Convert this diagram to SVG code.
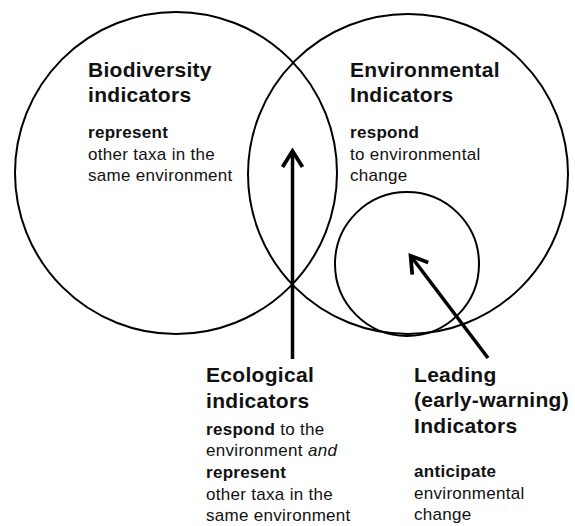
<svg xmlns="http://www.w3.org/2000/svg" width="575" height="526" viewBox="0 0 575 526">
<defs>
<style>
.c{fill:none;stroke:#000;stroke-width:2}
.a{fill:none;stroke:#000;stroke-width:3.5}
text{font-family:"Liberation Sans",Arial,sans-serif;fill:#111;letter-spacing:0.3px}
.t{font-size:21px;font-weight:bold}
.b{font-size:17px}
.bb{font-weight:bold}
</style>
<marker id="ah" markerUnits="userSpaceOnUse" viewBox="-22 -14 28 28" refX="0" refY="0" markerWidth="28" markerHeight="28" orient="auto">
<path d="M-16,-10 L0,0 L-16,10" fill="none" stroke="#000" stroke-width="3.8"/>
</marker>
</defs>
<rect width="575" height="526" fill="#fff"/>
<g id="biodiversity">
<circle class="c" cx="176" cy="173" r="161"/>
<text class="t" x="88" y="77">Biodiversity</text>
<text class="t" x="88" y="102">indicators</text>
<text class="b" x="88" y="138"><tspan class="bb">represent</tspan></text>
<text class="b" x="88" y="160">other taxa in the</text>
<text class="b" x="88" y="181">same environment</text>
</g>
<g id="environmental">
<circle class="c" cx="408" cy="174" r="160"/>
<text class="t" x="350" y="77">Environmental</text>
<text class="t" x="350" y="102">Indicators</text>
<text class="b" x="350" y="138"><tspan class="bb">respond</tspan></text>
<text class="b" x="350" y="160">to environmental</text>
<text class="b" x="350" y="181">change</text>
</g>
<g id="leading-circle">
<circle class="c" cx="407" cy="264" r="72"/>
</g>
<g id="connectors">
<line class="a" x1="292.5" y1="359" x2="292.5" y2="151" marker-end="url(#ah)"/>
<line class="a" x1="488" y1="358" x2="410.6" y2="255.8" marker-end="url(#ah)"/>
</g>
<g id="ecological">
<text class="t" x="206" y="382">Ecological</text>
<text class="t" x="206" y="408">indicators</text>
<text class="b" x="206" y="435"><tspan class="bb">respond</tspan> to the</text>
<text class="b" x="206" y="456">environment <tspan font-style="italic">and</tspan></text>
<text class="b" x="206" y="478"><tspan class="bb">represent</tspan></text>
<text class="b" x="206" y="500">other taxa in the</text>
<text class="b" x="206" y="521">same environment</text>
</g>
<g id="leading">
<text class="t" x="414" y="382">Leading</text>
<text class="t" x="414" y="407">(early-warning)</text>
<text class="t" x="414" y="433">Indicators</text>
<text class="b" x="414" y="477"><tspan class="bb">anticipate</tspan></text>
<text class="b" x="414" y="499">environmental</text>
<text class="b" x="414" y="520">change</text>
</g>
</svg>
